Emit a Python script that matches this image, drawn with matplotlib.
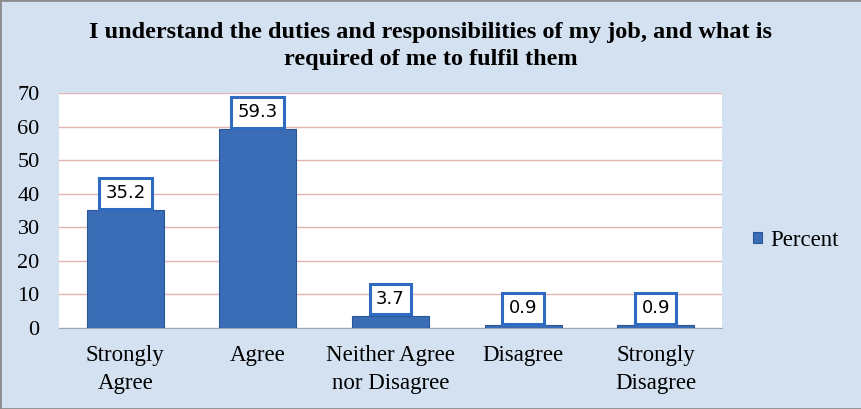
import matplotlib
matplotlib.use('Agg')
import matplotlib.pyplot as plt
from matplotlib.patches import Rectangle

categories = ['Strongly\nAgree', 'Agree', 'Neither Agree\nnor Disagree', 'Disagree', 'Strongly\nDisagree']
percent = [35.2, 59.3, 3.7, 0.9, 0.9]
y_ticks = [0, 10, 20, 30, 40, 50, 60, 70]

bg = '#D4E1F1'
bar_color = '#3A6DB5'
edge_color = '#2A5597'

fig = plt.figure(figsize=(8.62, 4.09), dpi=100, facecolor=bg)
fig.patches.append(Rectangle((0, 0), 1, 1, transform=fig.transFigure,
                             fill=False, edgecolor='#8C8C8C', linewidth=2))
ax = fig.add_axes([0.0685, 0.198, 0.769, 0.5746])
ax.set_facecolor('white')

x = range(len(categories))
bars = ax.bar(x, percent, width=0.58, color=bar_color, edgecolor=edge_color,
              linewidth=0.8, label='Percent', zorder=3)

ax.set_ylim(0, 70)
ax.set_xlim(-0.5, len(categories) - 0.5)
ax.set_yticks(y_ticks)
ax.set_yticklabels([str(t) for t in y_ticks], family='Liberation Serif', fontsize=16)
ax.set_xticks(list(x))
ax.set_xticklabels(categories, family='Liberation Serif', fontsize=16.5, linespacing=1.45)
ax.tick_params(axis='y', length=0, pad=14)
ax.tick_params(axis='x', length=0, pad=12)
ax.yaxis.grid(True, color='#E2B4B4', linewidth=1, zorder=0)
for s in ax.spines.values():
    s.set_visible(False)
ax.spines['bottom'].set_visible(True)
ax.spines['bottom'].set_color('#9AA8BC')

for b, v in zip(bars, percent):
    ax.annotate(f'{v}', (b.get_x() + b.get_width() / 2, v), xytext=(0, 5.5),
                textcoords='offset points', ha='center', va='bottom',
                family='DejaVu Sans', fontsize=13, zorder=5,
                bbox=dict(boxstyle='square,pad=0.35', facecolor='white',
                          edgecolor='#2F6BC0', linewidth=2.2))

fig.text(0.5, 0.888, 'I understand the duties and responsibilities of my job, and what is\nrequired of me to fulfil them',
         ha='center', va='center', family='Liberation Serif', fontweight='bold',
         fontsize=17.5, linespacing=1.35)

leg = fig.legend(handles=[bars], labels=['Percent'], loc='center left',
                 bbox_to_anchor=(0.85, 0.413), frameon=False,
                 prop={'family': 'Liberation Serif', 'size': 16.5},
                 handlelength=0.4, handleheight=0.4, handletextpad=0.35)

fig.savefig('out.png', dpi=100, facecolor=bg)
